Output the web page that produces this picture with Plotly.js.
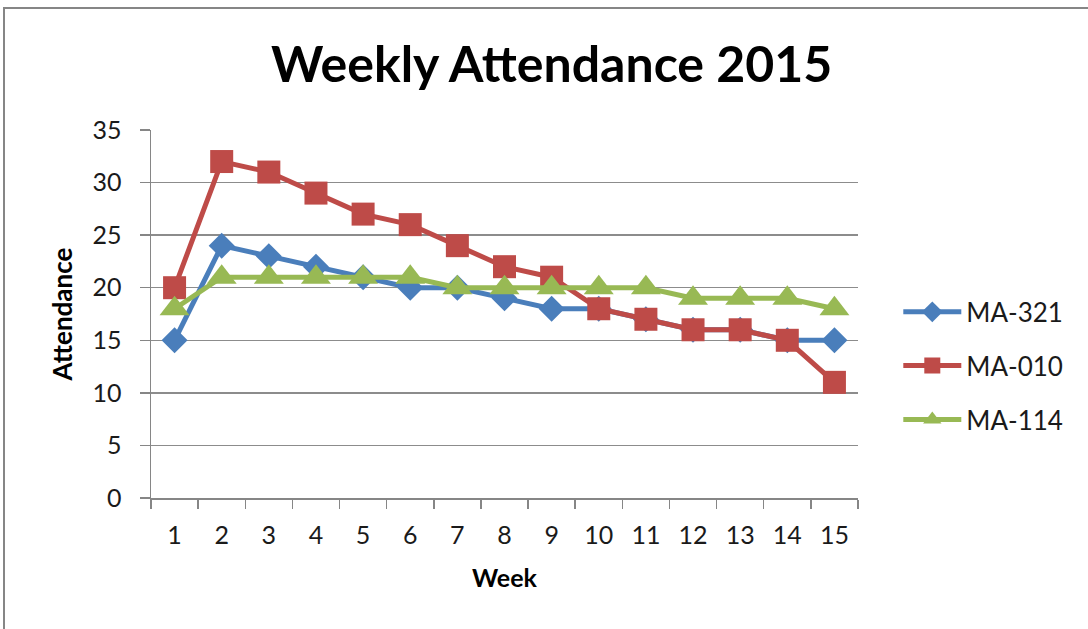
<!DOCTYPE html>
<html>
<head>
<meta charset="utf-8">
<script src="https://cdn.plot.ly/plotly-3.0.1.min.js"></script>
<style>
html,body{margin:0;padding:0;background:#fff;}
#wrap{position:relative;width:1088px;height:629px;}
#frame{position:absolute;left:3px;top:7px;width:1100px;height:640px;border-left:2px solid #868686;border-top:2px solid #868686;pointer-events:none;}
#chart{position:absolute;left:0;top:0;width:1088px;height:629px;}
</style>
</head>
<body>
<div id="wrap"><div id="chart"></div><div id="frame"></div></div>
<script>
const weeks = ["1","2","3","4","5","6","7","8","9","10","11","12","13","14","15"];
const ma321 = [15,24,23,22,21,20,20,19,18,18,17,16,16,15,15];
const ma010 = [20,32,31,29,27,26,24,22,21,18,17,16,16,15,11];
const ma114 = [18,21,21,21,21,21,20,20,20,20,20,19,19,19,18];
const seriesNames = ["MA-321","MA-010","MA-114"];

const FONT = "Lato, 'Open Sans', sans-serif";
const xs = weeks.map((w,i)=>i);
function tr(name, y, color, symbol, size){
  return {x: xs, y: y, name: name, legendgroup: name, type:"scatter", mode:"lines+markers",
    line:{color:color, width:5}, marker:{symbol:symbol, size:size, color:color}};
}
const data = [
  tr(seriesNames[0], ma321, "#4a7ebb", "diamond", 20),
  tr(seriesNames[1], ma010, "#be4b48", "square", 23),
  tr(seriesNames[2], ma114, "#98b954", "triangle-up", 26)
];
const layout = {
  width:1088, height:629,
  margin:{l:151, r:230, t:130, b:131},
  paper_bgcolor:"#fff", plot_bgcolor:"#fff",
  font:{family:FONT, color:"#000"},
  title:{text:"<b>Weekly Attendance 2015</b>", font:{size:50, family:FONT, color:"#000"}, x:0.507, xref:"container", xanchor:"center", y:0.898, yanchor:"middle"},
  xaxis:{range:[-0.5,14.5], tickmode:"array", tickvals:xs, ticktext:weeks,
    ticks:"", showgrid:false, zeroline:false, showline:true, linecolor:"#868686", linewidth:1.5,
    tickfont:{size:25, color:"#1a1a1a"}, ticklabelstandoff:14,
    minor:{tickmode:"linear", tick0:-0.5, dtick:1, ticks:"outside", ticklen:9, tickcolor:"#868686", tickwidth:1.5, showgrid:false},
    title:{text:"<b>Week</b>", font:{size:25}, standoff:22}, fixedrange:true},
  yaxis:{range:[0,35], dtick:5, tick0:0, ticks:"outside", ticklen:10, tickcolor:"#868686", tickwidth:1.5,
    showgrid:true, gridcolor:"#8c8c8c", gridwidth:1.5, zeroline:false, showline:true, linecolor:"#868686", linewidth:1.5,
    tickfont:{size:25, color:"#1a1a1a"}, ticklabelstandoff:13,
    title:{text:"<b>Attendance</b>", font:{size:26}, standoff:12}, fixedrange:true},
  showlegend:true,
  legend:{x:1.057, xanchor:"left", y:0.359, yanchor:"middle", font:{size:26, family:FONT, color:"#1a1a1a"},
    tracegroupgap:17, itemwidth:58, bgcolor:"rgba(0,0,0,0)"}
};
Plotly.newPlot("chart", data, layout, {displayModeBar:false, staticPlot:true});
</script>
</body>
</html>
